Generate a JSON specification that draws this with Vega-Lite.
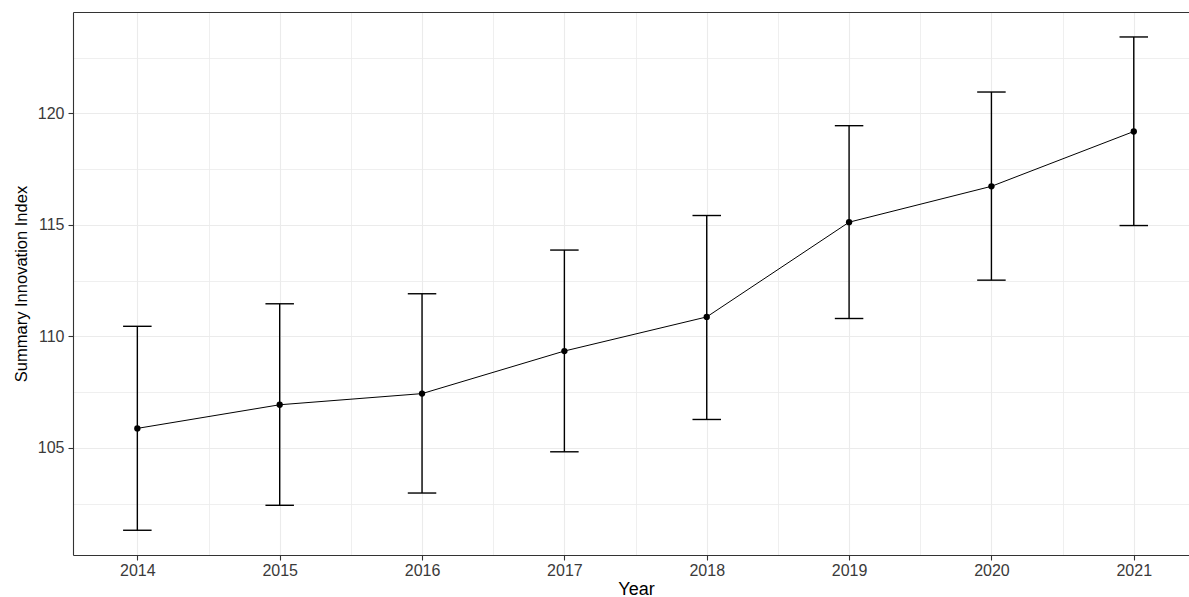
{
  "$schema": "https://vega.github.io/schema/vega-lite/v6.json",
  "width": 1116,
  "height": 543,
  "autosize": {"type": "none"},
  "padding": {"left": 73, "top": 12, "right": 0, "bottom": 42},
  "background": "white",
  "config": {
    "view": {"stroke": null},
    "axis": {
      "labelFont": "Liberation Sans",
      "titleFont": "Liberation Sans",
      "labelColor": "#3a3a3a",
      "titleColor": "#000000",
      "titleFontWeight": "normal"
    }
  },
  "data": {
    "values": [
      {"year": 2014, "mean": 105.87, "lower": 101.30, "upper": 110.45},
      {"year": 2015, "mean": 106.93, "lower": 102.42, "upper": 111.46},
      {"year": 2016, "mean": 107.43, "lower": 102.97, "upper": 111.91},
      {"year": 2017, "mean": 109.34, "lower": 104.82, "upper": 113.87},
      {"year": 2018, "mean": 110.87, "lower": 106.27, "upper": 115.42},
      {"year": 2019, "mean": 115.12, "lower": 110.80, "upper": 119.45},
      {"year": 2020, "mean": 116.73, "lower": 112.52, "upper": 120.96},
      {"year": 2021, "mean": 119.19, "lower": 114.97, "upper": 123.43}
    ]
  },
  "layer": [
    {
      "mark": {"type": "rule", "color": "black", "strokeWidth": 1.4},
      "encoding": {
        "x": {
          "field": "year", "type": "quantitative",
          "scale": {"domain": [2013.548, 2021.388], "nice": false, "zero": false},
          "axis": {
            "orient": "bottom", "values": [2014.5, 2015.5, 2016.5, 2017.5, 2018.5, 2019.5, 2020.5],
            "labels": false, "ticks": false, "domain": false, "title": null,
            "grid": true, "gridColor": "#ebebeb", "gridWidth": 0.8
          }
        },
        "y": {
          "field": "lower", "type": "quantitative",
          "scale": {"domain": [100.19, 124.55], "nice": false, "zero": false},
          "axis": {
            "orient": "left", "values": [102.5, 107.5, 112.5, 117.5, 122.5],
            "labels": false, "ticks": false, "domain": false, "title": null,
            "grid": true, "gridColor": "#ebebeb", "gridWidth": 0.8
          }
        },
        "y2": {"field": "upper"}
      }
    },
    {
      "mark": {"type": "tick", "orient": "horizontal", "size": 28.5, "thickness": 1.4, "color": "black", "opacity": 1},
      "encoding": {
        "x": {
          "field": "year", "type": "quantitative",
          "axis": {
            "orient": "bottom", "values": [2014, 2015, 2016, 2017, 2018, 2019, 2020, 2021], "format": "d",
            "grid": true, "gridColor": "#ebebeb", "gridWidth": 1.1,
            "domain": true, "domainColor": "#333333", "domainWidth": 1.1,
            "ticks": true, "tickSize": 5, "tickColor": "#333333", "tickWidth": 1.1,
            "labelFontSize": 16, "labelPadding": 2,
            "title": "Year", "titleFontSize": 18, "titlePadding": 2, "titleX": 563
          }
        },
        "y": {
          "field": "upper", "type": "quantitative",
          "axis": {
            "orient": "left", "values": [105, 110, 115, 120],
            "grid": true, "gridColor": "#ebebeb", "gridWidth": 1.1,
            "domain": true, "domainColor": "#333333", "domainWidth": 1.1,
            "ticks": true, "tickSize": 5, "tickColor": "#333333", "tickWidth": 1.1,
            "labelFontSize": 16, "labelPadding": 4,
            "title": "Summary Innovation Index", "titleFontSize": 16.5, "titlePadding": 8
          }
        }
      }
    },
    {
      "mark": {"type": "tick", "orient": "horizontal", "size": 28.5, "thickness": 1.4, "color": "black", "opacity": 1},
      "encoding": {
        "x": {
          "field": "year", "type": "quantitative",
          "axis": {
            "orient": "top", "labels": false, "ticks": false, "grid": false, "title": null,
            "domain": true, "domainColor": "#333333", "domainWidth": 1.1
          }
        },
        "y": {"field": "lower", "type": "quantitative", "axis": null}
      }
    },
    {
      "mark": {"type": "line", "color": "black", "strokeWidth": 1},
      "encoding": {
        "x": {"field": "year", "type": "quantitative", "axis": null},
        "y": {"field": "mean", "type": "quantitative", "axis": null}
      }
    },
    {
      "mark": {"type": "point", "filled": true, "color": "black", "size": 40, "opacity": 1},
      "encoding": {
        "x": {"field": "year", "type": "quantitative", "axis": null},
        "y": {"field": "mean", "type": "quantitative", "axis": null}
      }
    }
  ],
  "resolve": {"axis": {"x": "independent", "y": "independent"}}
}
